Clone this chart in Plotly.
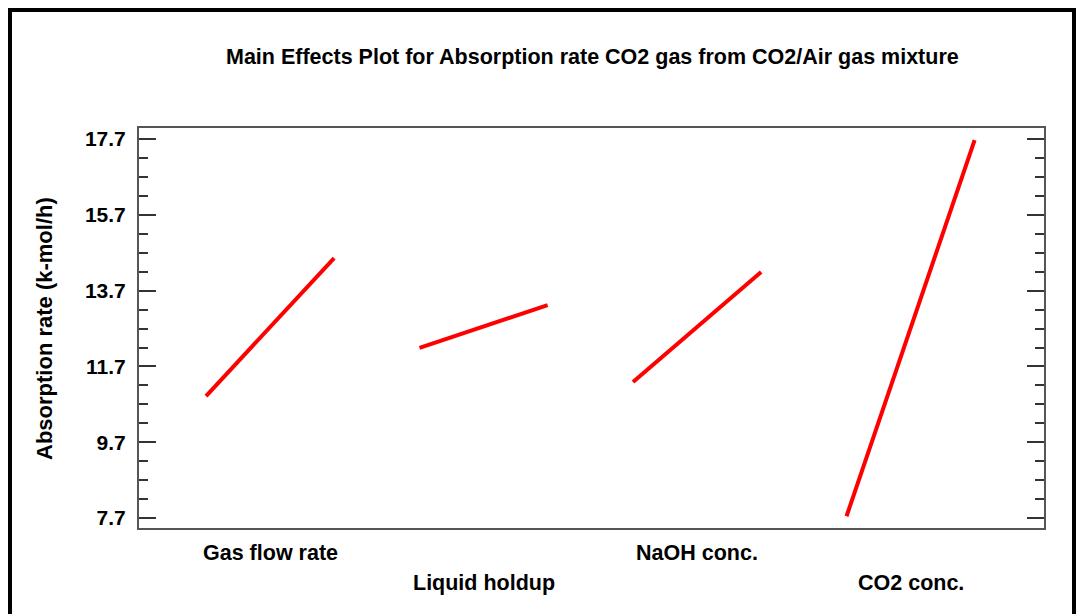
import plotly.graph_objects as go

factors = ["Gas flow rate", "Liquid holdup", "NaOH conc.", "CO2 conc."]
low_means = [10.92, 12.19, 11.29, 7.75]
high_means = [14.56, 13.32, 14.19, 17.67]
y_ticks = [7.7, 9.7, 11.7, 13.7, 15.7, 17.7]

W, H = 1078, 614
L, R, T, B = 139, 1044, 128, 528
SEG = 0.6
x_range = [-0.314, 3.925]
y_range = [7.44, 17.99]

FONT = "Liberation Sans, Arial, sans-serif"

fig = go.Figure()
for k, name in enumerate(factors):
    fig.add_trace(go.Scatter(
        x=[k, k + SEG], y=[low_means[k], high_means[k]],
        mode="lines", line=dict(color="#ff0000", width=4),
        showlegend=False, hoverinfo="skip", name=name))

# dummy trace for right axis
fig.add_trace(go.Scatter(x=[None], y=[None], yaxis="y2", showlegend=False))

yax = dict(range=y_range, tickvals=y_ticks, ticktext=[f"{v:.1f}" for v in y_ticks],
           ticks="inside", ticklen=17, tickwidth=2, tickcolor="#333",
           minor=dict(dtick=0.5, tick0=7.7, ticks="inside", ticklen=9, tickwidth=2, tickcolor="#333"),
           showgrid=False, zeroline=False, showline=True, linecolor="#555", linewidth=2)

fig.update_layout(
    width=W, height=H,
    margin=dict(l=L, r=W - R, t=T, b=H - B),
    paper_bgcolor="white", plot_bgcolor="white",
    font=dict(family=FONT, color="black"),
    xaxis=dict(range=x_range, showticklabels=False, ticks="", showgrid=False, zeroline=False,
               showline=True, linecolor="#555", linewidth=2, mirror=True),
    yaxis=dict(**yax, showticklabels=True, ticklabelstandoff=7,
               tickfont=dict(size=21, family=FONT, color="black", weight="bold")),
    yaxis2=dict(**yax, overlaying="y", side="right", showticklabels=False),
)

pw, ph = R - L, B - T
def px(x): return (x - L) / pw
def py(y): return (B - y) / ph

# title
fig.add_annotation(text="<b>Main Effects Plot for Absorption rate CO2 gas from CO2/Air gas mixture</b>",
                   xref="paper", yref="paper", x=px(592), y=py(57), showarrow=False,
                   xanchor="center", yanchor="middle", font=dict(size=21.5, family=FONT, color="black"))
# y axis title
fig.add_annotation(text="<b>Absorption rate (k-mol/h)</b>", textangle=-90,
                   xref="paper", yref="paper", x=px(44), y=py(329), showarrow=False,
                   xanchor="center", yanchor="middle", font=dict(size=22, family=FONT, color="black"))
# factor labels (staggered)
for k, name in enumerate(factors):
    yy = 553 if k % 2 == 0 else 583
    fig.add_annotation(text=f"<b>{name}</b>", xref="x", yref="paper", x=k + SEG / 2, y=py(yy),
                       showarrow=False, xanchor="center", yanchor="middle",
                       font=dict(size=21.5, family=FONT, color="black"))

# outer frame
fig.add_shape(type="rect", xref="paper", yref="paper",
              x0=px(10), x1=px(1074), y0=py(640), y1=py(10),
              line=dict(color="black", width=4), fillcolor="rgba(0,0,0,0)", layer="above")

fig.write_html("out.html", config={"displayModeBar": False},
               post_script="document.body.style.margin='0';")
